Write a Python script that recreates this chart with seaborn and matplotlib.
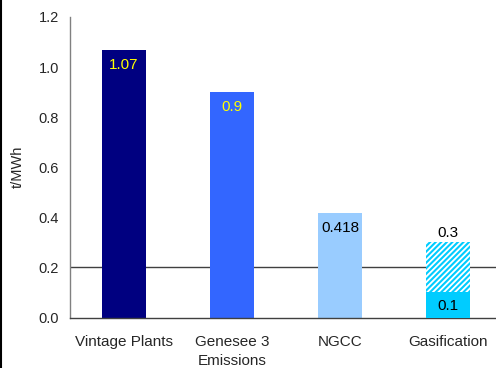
import matplotlib
matplotlib.use("Agg")
import matplotlib.pyplot as plt
from matplotlib.lines import Line2D
import seaborn as sns
import pandas as pd

categories = ["Vintage Plants", "Genesee 3\nEmissions", "NGCC", "Gasification"]
values = [1.07, 0.9, 0.418, 0.3]
value_labels = ["1.07", "0.9", "0.418", "0.3"]
bar_colors = ["#000080", "#3366FF", "#99CCFF", "#00CCFF"]
base_value = 0.1          # solid lower part of the Gasification bar
base_label = "0.1"
reference_level = 0.2
y_ticks = [0.0, 0.2, 0.4, 0.6, 0.8, 1.0, 1.2]

sns.set_style("white")
plt.rcParams["font.family"] = ["Liberation Sans", "DejaVu Sans"]
plt.rcParams["hatch.linewidth"] = 1.5
plt.rcParams["hatch.color"] = "#00CCFF"

df = pd.DataFrame({"category": categories, "value": values})

fig = plt.figure(figsize=(4.96, 3.68), dpi=100)
ax = fig.add_axes([70 / 496, 50.5 / 368, 432 / 496, 300.5 / 368])

# reference level behind the bars
ax.axhline(reference_level, color="#404040", lw=1.0, zorder=0.5)

sns.barplot(data=df, x="category", y="value", hue="category",
            palette=bar_colors, width=0.41, saturation=1, legend=False,
            linewidth=0, ax=ax, zorder=2)

# Gasification: hatched upper part over a solid base
gas = ax.patches[3]
gas.set_facecolor("white")
gas.set_edgecolor("#00CCFF")
gas.set_linewidth(0)
gas.set_hatch("//////")
x0 = gas.get_x()
w = gas.get_width()
ax.bar(x0, base_value, width=w, align="edge", color="#00CCFF",
       linewidth=0, zorder=3)

# value labels
label_colors = ["#FFFF00", "#FFFF00", "black"]
for i in range(3):
    ax.annotate(value_labels[i], (i, values[i]), xytext=(0, -15),
                textcoords="offset pixels", ha="center", va="center",
                color=label_colors[i], fontsize=11, zorder=5)
ax.annotate(value_labels[3], (3, values[3]), xytext=(0, 9),
            textcoords="offset pixels", ha="center", va="center",
            color="black", fontsize=11, zorder=5)
ax.annotate(base_label, (3, base_value), xytext=(0, -14),
            textcoords="offset pixels", ha="center", va="center",
            color="black", fontsize=11, zorder=5)

ax.set_xlim(-0.5, 3.5)
ax.set_ylim(0, 1.2)
ax.set_yticks(y_ticks)
ax.set_yticklabels([f"{t:.1f}" for t in y_ticks])

# category tick marks sit on the boundaries, labels centred on the bars
ax.set_xticks([0.5, 1.5, 2.5], minor=False)
ax.set_xticklabels([])
ax.set_xticks(range(len(categories)), minor=True)
ax.set_xticklabels(categories, minor=True, fontsize=11, linespacing=1.5)
ax.tick_params(axis="x", which="minor", length=0, pad=12.5)
ax.tick_params(axis="x", which="major", direction="out", length=4,
               color="#808080", width=1)
ax.tick_params(axis="y", direction="out", length=4, color="#808080",
               width=1, labelsize=10.5, pad=4)

ax.set_xlabel("")
ax.set_ylabel("t/MWh", fontsize=10.5)
ax.yaxis.set_label_coords(-0.105, 0.5)

for side in ("top", "right"):
    ax.spines[side].set_visible(False)
ax.spines["left"].set_color("#808080")
ax.spines["bottom"].set_color("#404040")
ax.spines["left"].set_linewidth(1)
ax.spines["bottom"].set_linewidth(1)

fig.add_artist(Line2D([0.002, 0.002], [0, 1], color="black", lw=1.5,
                      transform=fig.transFigure))

fig.savefig("out.png", dpi=100)
